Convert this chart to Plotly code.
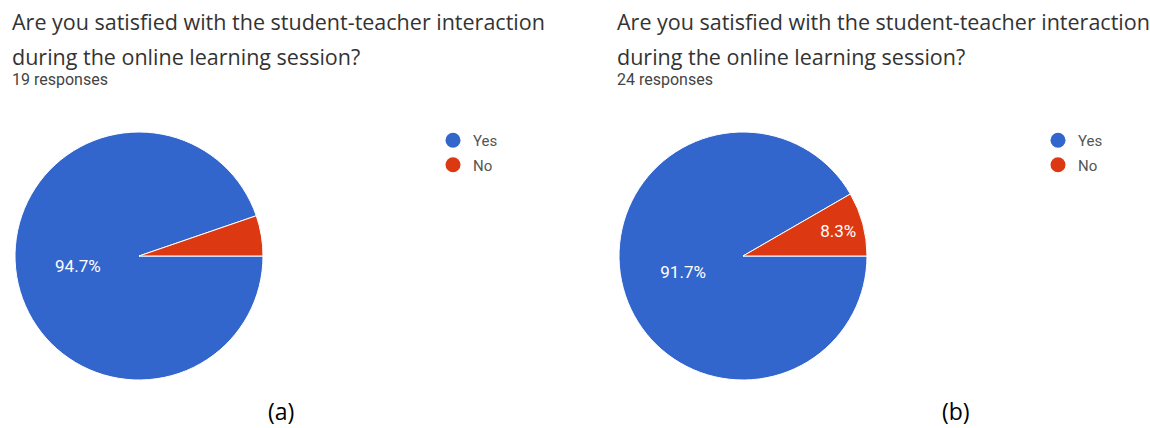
import plotly.graph_objects as go

# Survey answers for the two groups
answers = ["Yes", "No"]
counts_a = [18, 1]
counts_b = [22, 2]
question_lines = [
    "Are you satisfied with the student-teacher interaction",
    "during the online learning session?",
]
captions = ["(a)", "(b)"]

colors = ["#3366CC", "#DC3912"]
W, H = 1150, 428


def px_x(x):
    return x / W


def px_y(y):
    return 1 - y / H


def pie_labels(counts, min_share=0.06):
    total = sum(counts)
    return ["%{percent:.1%}" if c / total >= min_share else "" for c in counts]


def pie_trace(counts, x0, x1):
    return go.Pie(
        labels=answers,
        values=counts,
        sort=False,
        direction="counterclockwise",
        rotation=90,
        marker=dict(colors=colors, line=dict(color="white", width=1)),
        texttemplate=pie_labels(counts),
        textposition="inside",
        insidetextorientation="horizontal",
        insidetextfont=dict(color="white", size=17, family="Roboto"),
        hoverinfo="label+percent",
        showlegend=False,
        domain=dict(x=[px_x(x0), px_x(x1)], y=[px_y(380), px_y(132)]),
    )


fig = go.Figure()
fig.add_trace(pie_trace(counts_a, 15, 263))
fig.add_trace(pie_trace(counts_b, 619, 867))

# Round legend swatches for each panel
for legend_id in ["legend", "legend2"]:
    for name, col in zip(answers, colors):
        fig.add_trace(go.Scatter(
            x=[None], y=[None], mode="markers", name=name,
            marker=dict(color=col, size=15, symbol="circle"),
            legend=legend_id, legendgroup=legend_id + name,
            showlegend=True, hoverinfo="skip",
        ))

legend_style = dict(
    font=dict(family="Roboto", size=15, color="#555555"),
    bgcolor="rgba(0,0,0,0)",
    traceorder="grouped",
    tracegroupgap=2,
    itemwidth=30,
    xanchor="left", yanchor="top",
)

annotations = []
for x0, n in [(10, sum(counts_a)), (615, sum(counts_b))]:
    for line, yc in zip(question_lines, [22, 56]):
        annotations.append(dict(
            text=line, x=px_x(x0), y=px_y(yc), xref="paper", yref="paper",
            xanchor="left", yanchor="middle", align="left", showarrow=False,
            font=dict(family="Open Sans", size=21.5, color="#333333"),
        ))
    annotations.append(dict(
        text=f"{n} responses", x=px_x(x0), y=px_y(79), xref="paper", yref="paper",
        xanchor="left", yanchor="middle", align="left", showarrow=False,
        font=dict(family="Roboto", size=16, color="#444444"),
    ))
for cx, cap in zip([281, 956], captions):
    annotations.append(dict(
        text=cap, x=px_x(cx), y=0, xref="paper", yref="paper",
        xanchor="center", yanchor="bottom", showarrow=False,
        borderpad=0,
        font=dict(family="Open Sans", size=23, color="#000000"),
    ))

fig.update_layout(
    width=W, height=H,
    margin=dict(l=0, r=0, t=0, b=0),
    paper_bgcolor="white", plot_bgcolor="white",
    xaxis=dict(visible=False), yaxis=dict(visible=False),
    legend=dict(x=px_x(433), y=px_y(124), **legend_style),
    legend2=dict(x=px_x(1038), y=px_y(124), **legend_style),
    annotations=annotations,
)

fig.write_html("out.html")
